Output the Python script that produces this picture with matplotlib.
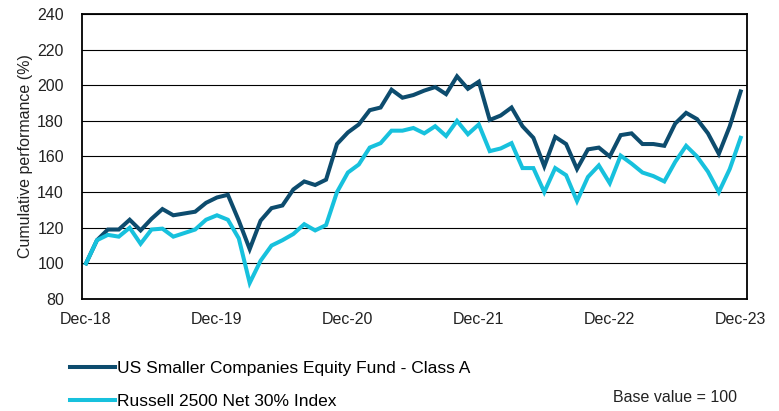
import matplotlib
matplotlib.use("Agg")
import matplotlib.pyplot as plt

plt.rcParams['font.family'] = ['Liberation Sans', 'DejaVu Sans']

months = list(range(61))
tick_positions = [0, 12, 24, 36, 48, 60]
tick_labels = ["Dec-18", "Dec-19", "Dec-20", "Dec-21", "Dec-22", "Dec-23"]

fund = [100, 113, 119, 119, 124.5, 118.5, 125, 130.5, 127, 128, 129, 134, 137,
        138.5, 124, 108, 124, 131, 132.5, 141.5, 146, 144, 147, 167, 173.5,
        178, 186, 187.5, 197.5, 193, 194.5, 197, 199, 195, 205, 198, 202,
        180.5, 183, 187.5, 177, 170.5, 154.5, 171, 167, 153, 164, 165, 160,
        172, 173, 167, 167, 166, 178.5, 184.5, 181, 173, 161.5, 177, 196.5]

index = [100, 113, 116, 115, 120, 111, 119, 119.5, 115, 117, 119, 124.5, 127,
         124.5, 114, 89, 101.5, 110, 113, 116.5, 122, 118.5, 121.5, 140, 151,
         155.5, 165, 167.5, 174.5, 174.5, 176, 173, 177, 171.5, 180, 172.5, 178,
         163, 164.5, 167.5, 153.5, 153.5, 140, 153.5, 149.5, 135, 148.5, 155, 145,
         160.5, 156, 151, 149, 146, 157, 166, 160, 151.5, 140, 153, 170.5]

labels = ["US Smaller Companies Equity Fund - Class A", "Russell 2500 Net 30% Index"]
colors = ["#0d4c6e", "#17c1dd"]

fig = plt.figure(figsize=(7.79, 4.11), dpi=100)
ax = fig.add_axes([82/779, 1-299/411, 665/779, 285/411])

l1, = ax.plot(months, fund, color=colors[0], lw=2.9, solid_joinstyle='miter', zorder=3)
l2, = ax.plot(months, index, color=colors[1], lw=2.9, solid_joinstyle='miter', zorder=3)

ax.set_xlim(-0.37, 60.58)
ax.set_ylim(80, 240)
ax.set_yticks(range(80, 241, 20))
ax.set_xticks(tick_positions)
ax.set_xticklabels(tick_labels)
ax.tick_params(axis='both', length=0, labelsize=11.5, colors='#222222')
ax.tick_params(axis='x', pad=9)
ax.tick_params(axis='y', pad=13)
ax.grid(axis='y', color='black', lw=0.8)
ax.set_axisbelow(True)
for s in ax.spines.values():
    s.set_color('black')
    s.set_linewidth(1.3)
ax.set_ylabel("Cumulative performance (%)", fontsize=11.5, color='#222222', labelpad=3)

fig.legend(handles=[l1, l2], labels=labels, loc='center left',
           bbox_to_anchor=(70/779, 1-385/411), frameon=False, fontsize=12.5,
           handlelength=2.6, handletextpad=0.1, borderpad=0, borderaxespad=0,
           labelspacing=1.05)
fig.text(613/779, 1-397/411, "Base value = 100", fontsize=11.5, color='#222222',
         ha='left', va='center')

fig.savefig("out.png", dpi=100)
